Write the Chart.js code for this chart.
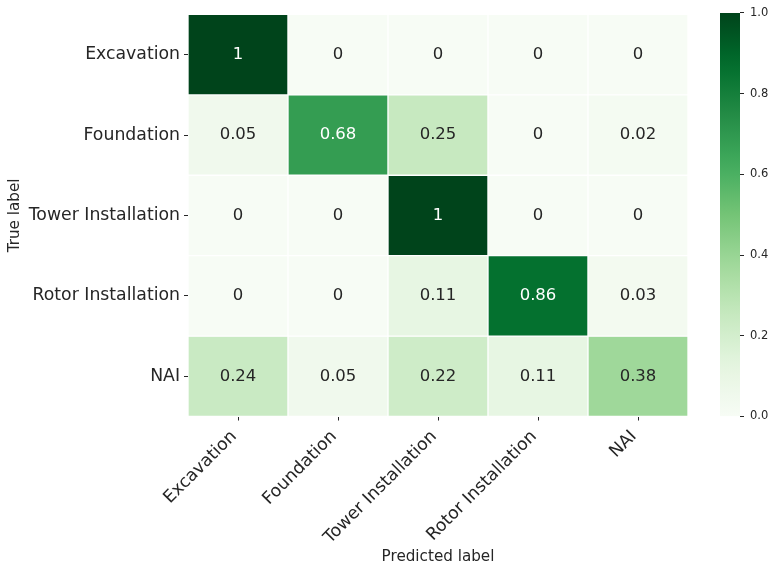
<!DOCTYPE html>
<html>
<head>
<meta charset="utf-8">
<script src="https://cdn.jsdelivr.net/npm/chart.js@4.4.1/dist/chart.umd.min.js"></script>
<style>
  html, body { margin: 0; padding: 0; background: #ffffff; }
  #wrap { position: relative; width: 770px; height: 566px; }
  #matrix { position: absolute; left: 0; top: 0; }
  #cbar { position: absolute; left: 700px; top: 0; }
</style>
</head>
<body>
<div id="wrap">
  <canvas id="matrix" width="770" height="566"></canvas>
  <canvas id="cbar" width="70" height="566"></canvas>
</div>
<script>
// Confusion matrix of construction-phase classification (rows: true, columns: predicted)
const predictedLabels = ['Excavation', 'Foundation', 'Tower Installation', 'Rotor Installation', 'NAI'];
const trueLabels = ['Excavation', 'Foundation', 'Tower Installation', 'Rotor Installation', 'NAI'];

const rowExcavation = [1, 0, 0, 0, 0];
const rowFoundation = [0.05, 0.68, 0.25, 0, 0.02];
const rowTower = [0, 0, 1, 0, 0];
const rowRotor = [0, 0, 0.11, 0.86, 0.03];
const rowNAI = [0.24, 0.05, 0.22, 0.11, 0.38];

const colorbarTicks = [0.0, 0.2, 0.4, 0.6, 0.8, 1.0];

const rows = [rowExcavation, rowFoundation, rowTower, rowRotor, rowNAI];

// Sequential green colour map
const greenStops = ['#f7fcf5', '#e5f5e0', '#c7e9c0', '#a1d99b', '#74c476', '#41ab5d', '#238b45', '#006d2c', '#00441b'];
function hexToRgb(h) {
  return [parseInt(h.slice(1, 3), 16), parseInt(h.slice(3, 5), 16), parseInt(h.slice(5, 7), 16)];
}
function greens(v) {
  const t = Math.max(0, Math.min(1, v)) * (greenStops.length - 1);
  const i = Math.min(Math.floor(t), greenStops.length - 2);
  const f = t - i;
  const a = hexToRgb(greenStops[i]), b = hexToRgb(greenStops[i + 1]);
  const c = a.map((x, k) => Math.round(x + (b[k] - x) * f));
  return 'rgb(' + c.join(',') + ')';
}
function textColorFor(v) {
  const rgb = greens(v).match(/\d+/g).map(Number).map(x => {
    x /= 255;
    return x <= 0.03928 ? x / 12.92 : Math.pow((x + 0.055) / 1.055, 2.4);
  });
  const lum = 0.2126 * rgb[0] + 0.7152 * rgb[1] + 0.0722 * rgb[2];
  return lum < 0.408 ? '#ffffff' : '#262626';
}

const FONT = 'DejaVu Sans';
const TICK_COLOR = '#262626';

// One floating-bar dataset per matrix row; each bar spans [row, row + 1]
const datasets = rows.map((vals, r) => ({
  label: trueLabels[r],
  data: vals.map(() => [r, r + 1]),
  cellValues: vals,
  backgroundColor: vals.map(v => greens(v)),
  borderColor: '#ffffff',
  borderWidth: 1,
  borderSkipped: false,
  barPercentage: 1,
  categoryPercentage: 1,
  grouped: false
}));

const cellLabels = {
  id: 'cellLabels',
  afterDatasetsDraw(chart) {
    const ctx = chart.ctx;
    ctx.save();
    ctx.font = '16.5px "' + FONT + '"';
    ctx.textAlign = 'center';
    ctx.textBaseline = 'middle';
    chart.data.datasets.forEach((ds, di) => {
      const meta = chart.getDatasetMeta(di);
      meta.data.forEach((el, i) => {
        const v = ds.cellValues[i];
        const p = el.getCenterPoint();
        ctx.fillStyle = textColorFor(v);
        ctx.fillText(String(v), p.x, p.y);
      });
    });
    ctx.restore();
  }
};

new Chart(document.getElementById('matrix'), {
  type: 'bar',
  data: { labels: predictedLabels, datasets },
  options: {
    responsive: false,
    animation: false,
    layout: { padding: { top: 11.5, right: 82, left: 0, bottom: 0 } },
    plugins: { legend: { display: false }, tooltip: { enabled: false } },
    scales: {
      x: {
        type: 'category',
        offset: true,
        grid: { display: true, drawOnChartArea: false, drawTicks: true, tickLength: 4, tickWidth: 1, color: TICK_COLOR, offset: false },
        border: { display: false },
        ticks: {
          autoSkip: false, minRotation: 45, maxRotation: 45, padding: 6, labelOffset: -4,
          color: TICK_COLOR, font: { family: FONT, size: 17.3 }
        },
        title: { display: true, text: 'Predicted label', color: TICK_COLOR, font: { family: FONT, size: 15.2 }, padding: { top: 0, bottom: 0 } },
        afterFit(scale) { scale.height = 149.5; }
      },
      y: {
        type: 'linear',
        min: 0, max: 5, reverse: true,
        grid: { display: true, drawOnChartArea: false, drawTicks: true, tickLength: 4, tickWidth: 1, color: TICK_COLOR },
        border: { display: false },
        afterBuildTicks(scale) { scale.ticks = trueLabels.map((_, i) => ({ value: i + 0.5 })); },
        ticks: {
          padding: 4,
          color: TICK_COLOR, font: { family: FONT, size: 17.3 },
          callback(value, index) { return trueLabels[index]; }
        },
        title: { display: true, text: 'True label', color: TICK_COLOR, font: { family: FONT, size: 15.2 }, padding: { top: 6, bottom: 4 } },
        afterFit(scale) { scale.width = 188; }
      }
    }
  },
  plugins: [cellLabels]
});

// Colour bar: a single floating bar from 0 to 1 filled with the colour map
new Chart(document.getElementById('cbar'), {
  type: 'bar',
  data: {
    labels: [''],
    datasets: [{
      data: [[0, 1]],
      barPercentage: 1,
      categoryPercentage: 1,
      borderWidth: 0,
      backgroundColor(c) {
        const area = c.chart.chartArea;
        if (!area) return greens(0.5);
        const g = c.chart.ctx.createLinearGradient(0, area.bottom, 0, area.top);
        for (let k = 0; k <= 20; k++) g.addColorStop(k / 20, greens(k / 20));
        return g;
      }
    }]
  },
  options: {
    responsive: false,
    animation: false,
    layout: { padding: { top: 11.5, bottom: 149.5, left: 20, right: 0 } },
    plugins: { legend: { display: false }, tooltip: { enabled: false } },
    scales: {
      x: { display: false },
      y: {
        position: 'right',
        min: 0, max: 1,
        grid: { display: true, drawOnChartArea: false, drawTicks: true, tickLength: 4, color: TICK_COLOR },
        border: { display: false },
        afterBuildTicks(scale) { scale.ticks = colorbarTicks.map(v => ({ value: v })); },
        ticks: {
          padding: 6, color: TICK_COLOR, font: { family: FONT, size: 11.5 },
          callback(value) { return Number(value).toFixed(1); }
        },
        afterFit(scale) { scale.width = 30; }
      }
    }
  }
});
</script>
</body>
</html>
